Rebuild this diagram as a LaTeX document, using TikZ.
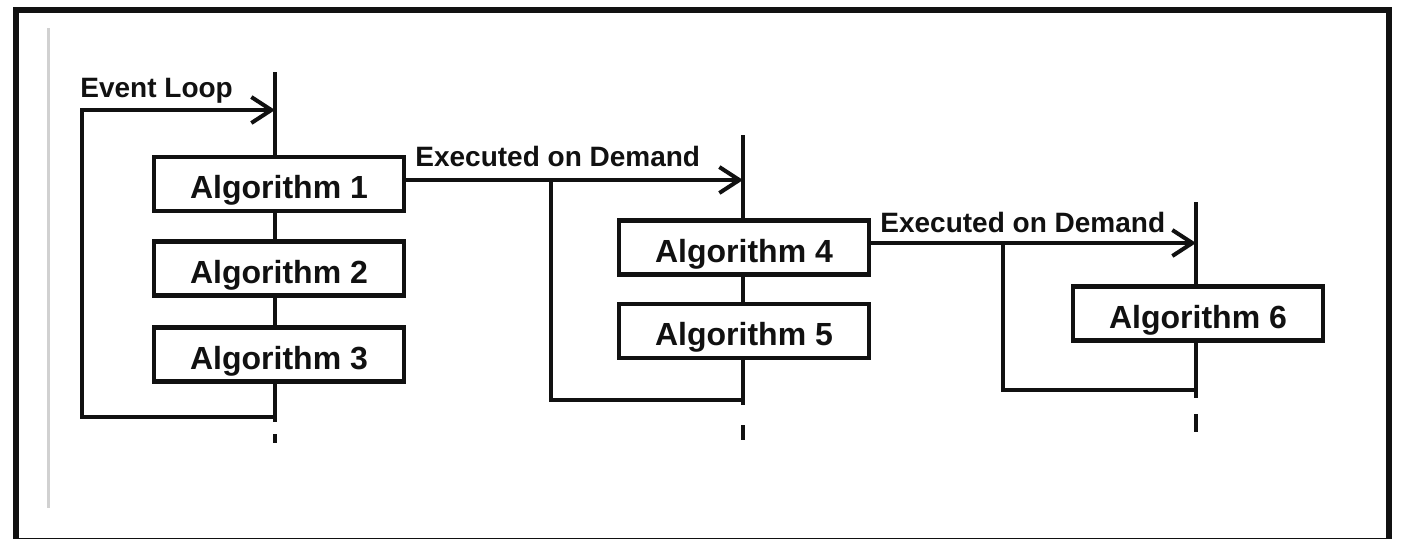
\documentclass[tikz,border=0pt]{standalone}
\usepackage{fontspec}
\setmainfont{Liberation Sans}
\usetikzlibrary{arrows.meta}
\definecolor{ink}{HTML}{111111}
\begin{document}
\begin{tikzpicture}[x=0.5pt,y=-0.5pt,
  algbox/.style={draw=ink, line width=2.2pt, fill=white, minimum width=125pt,
    minimum height=27pt, inner sep=0pt, text=ink, text height=18pt, text depth=3.5pt,
    font=\bfseries\fontsize{16}{18}\selectfont},
  lbl/.style={anchor=base west, inner sep=0pt, text=ink,
    font=\bfseries\fontsize{14}{16}\selectfont},
  spine/.style={draw=ink, line width=1.7pt},
  tick/.style={draw=ink, line width=2.2pt},
  flow/.style={draw=ink, line width=2pt, line join=miter},
  tip/.style={-{Straight Barb[length=10pt,width=13pt]}}]

\useasboundingbox (0,0) rectangle (1404,538);

% outer frame and faint margin rule
\draw[ink, line width=3pt] (15.5,9.5) rectangle (1389,541);
\draw[black!18, line width=1.5pt] (48,28) -- (48,508);

% timelines
\coordinate (s1top) at (275,72);   \coordinate (s1end) at (275,422);
\coordinate (s2top) at (743,135);  \coordinate (s2end) at (743,405);
\coordinate (s3top) at (1196,202); \coordinate (s3end) at (1196,398);
\draw[spine] (s1top) -- (s1end);
\draw[spine] (s2top) -- (s2end);
\draw[spine] (s3top) -- (s3end);

% continuation ticks
\coordinate (k1a) at (275,434); \coordinate (k1b) at (275,443);
\coordinate (k2a) at (743,425); \coordinate (k2b) at (743,440);
\coordinate (k3a) at (1196,414); \coordinate (k3b) at (1196,432);
\draw[tick] (k1a) -- (k1b);
\draw[tick] (k2a) -- (k2b);
\draw[tick] (k3a) -- (k3b);

% algorithm blocks
\node[algbox] (alg1) at (279,184) {Algorithm 1};
\node[algbox] (alg2) at (279,268.5) {Algorithm 2};
\node[algbox] (alg3) at (279,354.5) {Algorithm 3};
\node[algbox] (alg4) at (744,247.5) {Algorithm 4};
\node[algbox] (alg5) at (744,331) {Algorithm 5};
\node[algbox] (alg6) at (1198,313.5) {Algorithm 6};

% event loop
\coordinate (lp1b) at (275,417);
\coordinate (lp1c) at (82,110);
\coordinate (lp1t) at (275,110);
\draw[flow,tip] (lp1b) -| (lp1c) -- (lp1t);
\node[lbl] (t1) at (80,97) {Event Loop};

% first on-demand branch
\coordinate (lp2t) at (743,180);
\coordinate (lp2c) at (551,180);
\coordinate (lp2b) at (743,400);
\draw[flow,tip] (alg1.east |- lp2t) -- (lp2t);
\draw[flow] (lp2b) -| (lp2c);
\node[lbl] (t2) at (415,166) {Executed on Demand};

% second on-demand branch
\coordinate (lp3t) at (1196,243);
\coordinate (lp3c) at (1003,243);
\coordinate (lp3b) at (1196,390);
\draw[flow,tip] (alg4.east |- lp3t) -- (lp3t);
\draw[flow] (lp3b) -| (lp3c);
\node[lbl] (t3) at (880,232) {Executed on Demand};

\end{tikzpicture}
\end{document}
